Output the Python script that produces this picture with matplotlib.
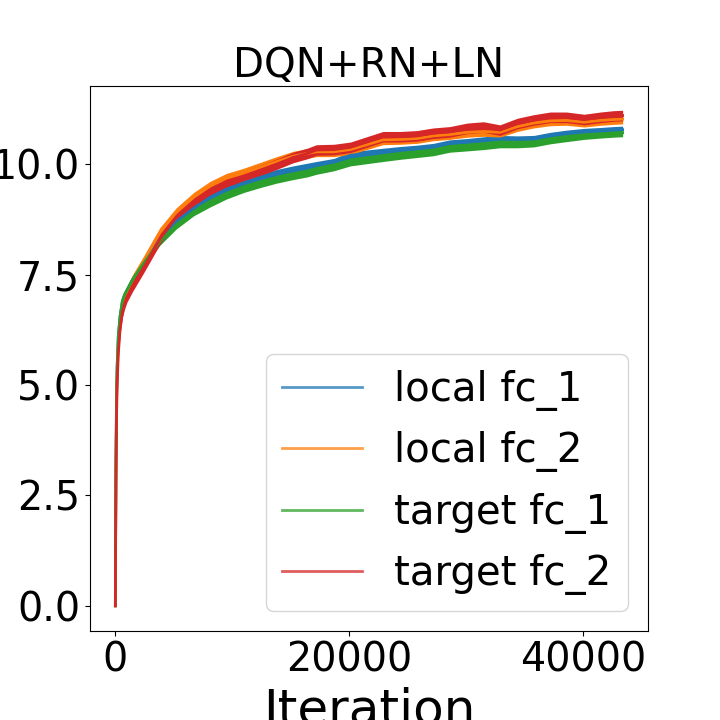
import numpy as np
import matplotlib.pyplot as plt

# iteration grid
iters = [0, 20, 50, 100, 150, 250, 400, 600, 800, 1000, 1500, 2400, 3800, 5200,
         6700, 8100, 9500, 11000, 12400, 13800, 15200, 16400, 17200, 18700,
         20100, 21500, 22900, 24400, 25800, 27200, 28600, 30100, 31500, 32900,
         34400, 35800, 37200, 38600, 40100, 41500, 42600, 43400]

local_fc1 = [0, 1.6, 3.2, 4.7, 5.4, 6.1, 6.55, 6.9, 7.05, 7.15, 7.4, 7.75, 8.3, 8.7,
             9.0, 9.25, 9.43, 9.58, 9.7, 9.8, 9.88, 9.94, 9.98, 10.05,
             10.2, 10.24, 10.28, 10.32, 10.35, 10.39, 10.47, 10.5, 10.54, 10.57,
             10.56, 10.57, 10.64, 10.69, 10.73, 10.75, 10.77, 10.78]

local_fc2 = [0, 1.5, 3.0, 4.5, 5.2, 5.9, 6.4, 6.8, 7.0, 7.1, 7.4, 7.8, 8.45, 8.9,
             9.25, 9.5, 9.68, 9.8, 9.93, 10.06, 10.18, 10.24, 10.28, 10.28,
             10.33, 10.44, 10.55, 10.56, 10.58, 10.64, 10.67, 10.72, 10.74, 10.72,
             10.85, 10.93, 10.98, 10.99, 10.95, 10.99, 11.01, 11.02]

target_fc1 = [0, 1.6, 3.2, 4.7, 5.4, 6.1, 6.55, 6.9, 7.05, 7.15, 7.4, 7.75, 8.25, 8.62,
              8.92, 9.12, 9.3, 9.45, 9.56, 9.66, 9.74, 9.8, 9.86, 9.94,
              10.05, 10.1, 10.15, 10.2, 10.24, 10.28, 10.36, 10.39, 10.42, 10.46,
              10.46, 10.48, 10.55, 10.6, 10.65, 10.68, 10.7, 10.71]

target_fc2 = [0, 1.3, 2.8, 4.3, 5.0, 5.7, 6.25, 6.65, 6.85, 7.0, 7.25, 7.65, 8.3, 8.8,
              9.15, 9.4, 9.6, 9.72, 9.86, 10.0, 10.15, 10.24, 10.32, 10.33,
              10.38, 10.5, 10.62, 10.62, 10.64, 10.7, 10.73, 10.81, 10.84, 10.77,
              10.92, 11.0, 11.06, 11.06, 11.01, 11.06, 11.09, 11.1]

labels = ['local fc_1', 'local fc_2', 'target fc_1', 'target fc_2']
colors = ['#1f77b4', '#ff7f0e', '#2ca02c', '#d62728']
spread = [0.08, 0.11, 0.09, 0.12]  # half width of the noisy band

fig = plt.figure(figsize=(7.2, 7.2), dpi=100)
ax = fig.add_axes([0.125, 0.1236, 0.775, 0.757])

x = np.array(iters)
for vals, lab, col, hw in zip([local_fc1, local_fc2, target_fc1, target_fc2],
                              labels, colors, spread):
    y = np.array(vals)
    ax.fill_between(x, y - hw, y + hw, color=col, lw=0)
    ax.plot(x, y, color=col, lw=2, label=lab)

ax.set_xlim(-2170, 45570)
ax.set_ylim(-0.57, 11.77)
ax.set_xticks([0, 20000, 40000])
ax.set_yticks([0, 2.5, 5.0, 7.5, 10.0])
ax.set_yticklabels(['0.0', '2.5', '5.0', '7.5', '10.0'])
ax.tick_params(labelsize=28.5)
ax.set_xlabel('Iteration', fontsize=36)
ax.set_title('DQN+RN+LN', fontsize=29)

leg = ax.legend(loc='lower right', fontsize=29)
for ln in leg.get_lines():
    ln.set_alpha(0.75)
    ln.set_linewidth(2)

fig.savefig('out.png', dpi=100)
